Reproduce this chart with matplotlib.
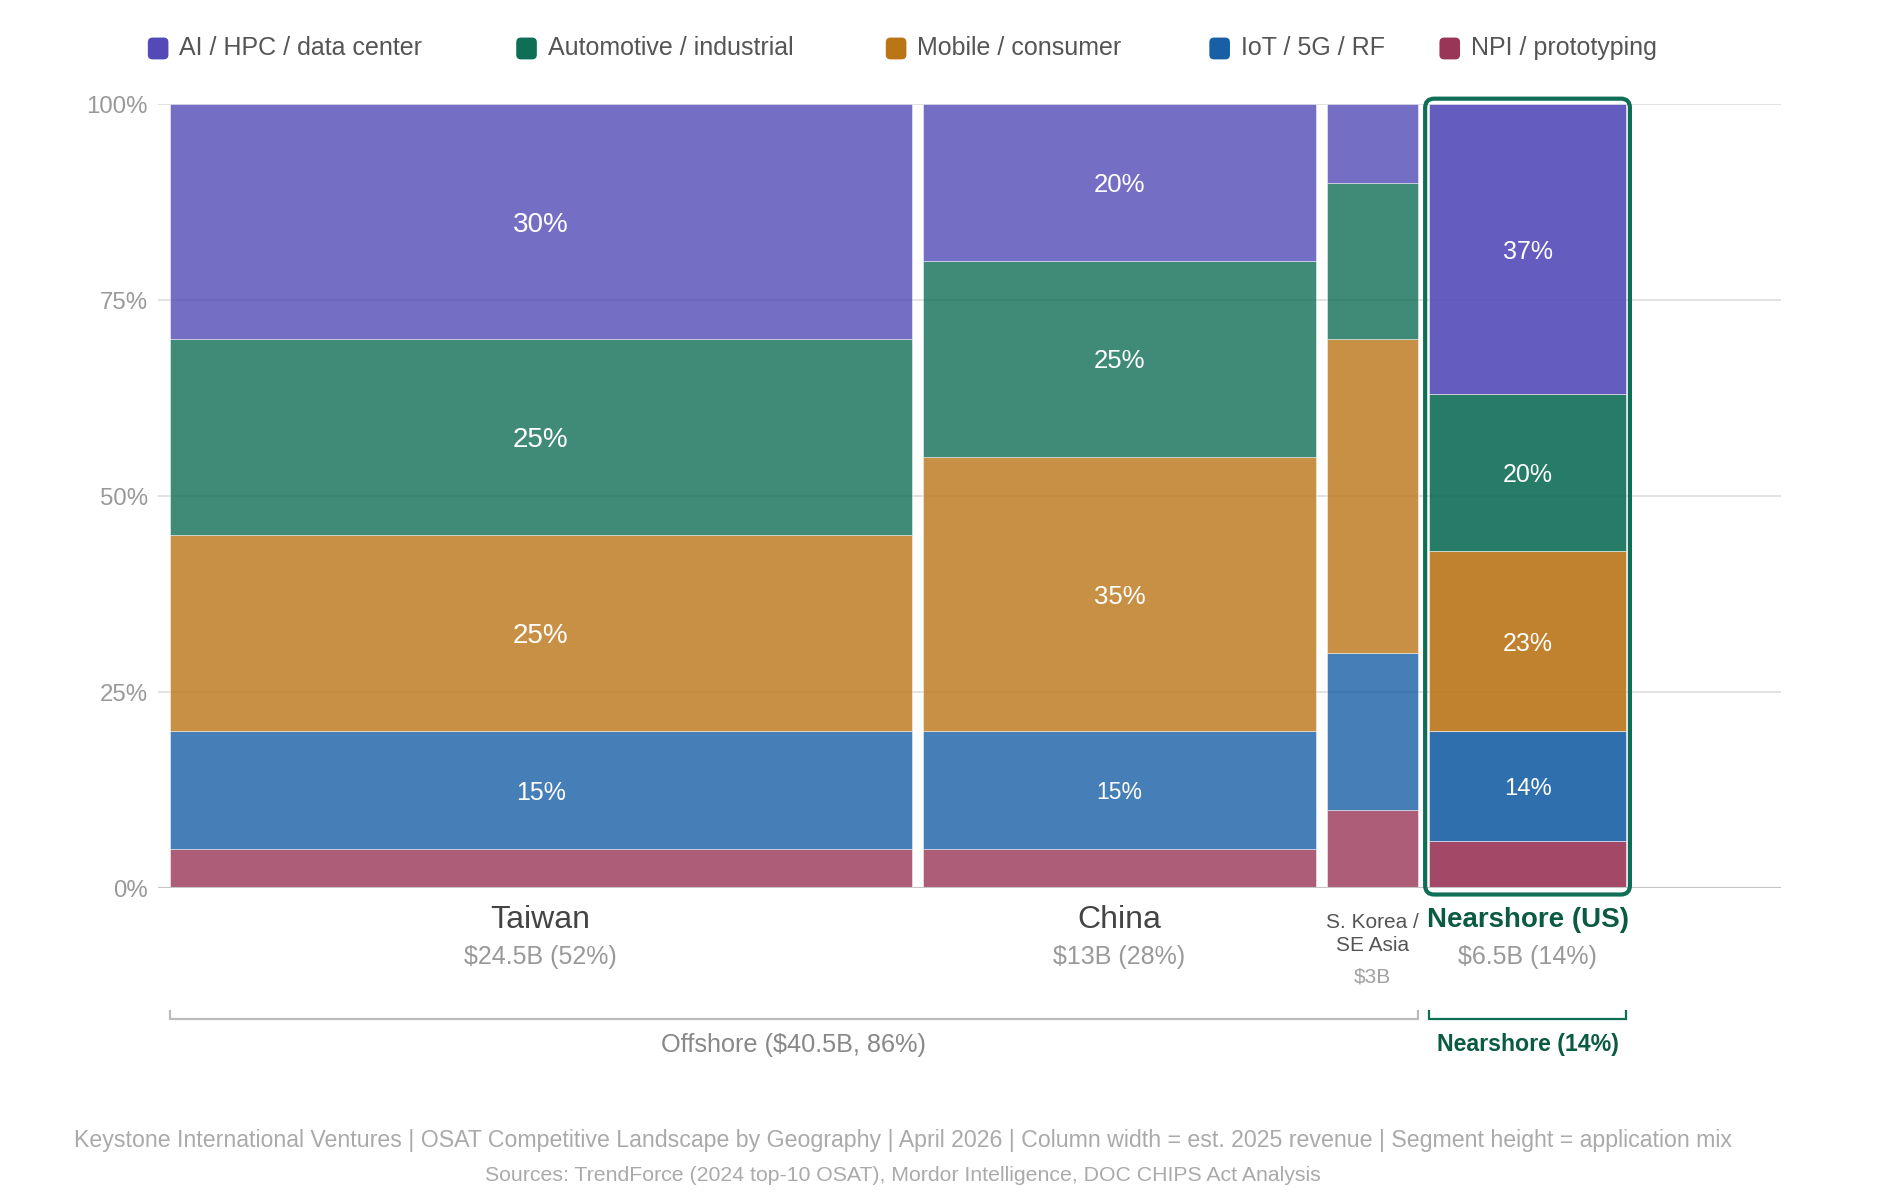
import numpy as np
import matplotlib.pyplot as plt
from matplotlib.patches import FancyBboxPatch

plt.rcParams['font.family'] = ['Liberation Sans', 'DejaVu Sans']

# Datos
regiones = ['Taiwan', 'China', 'S. Korea /\nSE Asia', 'Nearshore (US)']
ingresos = [24.5, 13, 3, 6.5]  # $B, ancho de cada columna
etiquetas_ingreso = ['$24.5B (52%)', '$13B (28%)', '$3B', '$6.5B (14%)']

segmentos = ['AI / HPC / data center', 'Automotive / industrial', 'Mobile / consumer',
             'IoT / 5G / RF', 'NPI / prototyping']
ai = [30, 20, 10, 37]
auto = [25, 25, 20, 20]
mobile = [25, 35, 40, 23]
iot = [15, 15, 20, 14]
npi = [5, 5, 10, 6]

colores = ['#534AB7', '#0F6E56', '#BA7517', '#185FA5', '#993556']

offshore_txt = 'Offshore ($40.5B, 86%)'
nearshore_txt = 'Nearshore (14%)'
pie1 = ('Keystone International Ventures | OSAT Competitive Landscape by Geography | April 2026 | '
        'Column width = est. 2025 revenue | Segment height = application mix')
pie2 = 'Sources: TrendForce (2024 top-10 OSAT), Mordor Intelligence, DOC CHIPS Act Analysis'

verde = '#0F6E56'
verde_osc = '#0B5A44'

fig = plt.figure(figsize=(19, 12), dpi=100)
ax = fig.add_axes([0.0829, 0.2598, 0.8545, 0.6534])
ax.set_xlim(-0.4, 53.2)
ax.set_ylim(0, 100)

# Grilla horizontal
for y in [25, 50, 75, 100]:
    ax.axhline(y, color='#dddddd', lw=1.2, zorder=0)
ax.axhline(0, color='#c4c4c4', lw=1.5, zorder=4)

# Posiciones de las columnas (ancho = ingreso, separación fija)
hueco = 0.36
izq = np.concatenate([[0], np.cumsum(np.array(ingresos) + hueco)[:-1]])
centros = izq + np.array(ingresos) / 2

# Apilamos de abajo hacia arriba: NPI, IoT, Mobile, Auto, AI
pila = [npi, iot, mobile, auto, ai]
colores_pila = colores[::-1]
base = np.zeros(len(regiones))
for valores, color in zip(pila, colores_pila):
    valores = np.array(valores, dtype=float)
    for i in range(len(regiones)):
        alfa = 0.9 if i == 3 else 0.8
        ax.bar(izq[i], valores[i], width=ingresos[i], bottom=base[i], align='edge',
               color=color, alpha=alfa, edgecolor='white', linewidth=0.4, zorder=2)
        if valores[i] >= 10 and ingresos[i] >= 5:
            if ingresos[i] > 20:
                tam = 20 if valores[i] >= 16 else 18
            elif ingresos[i] > 10:
                tam = 18.5 if valores[i] >= 16 else 16.5
            else:
                tam = 18 if valores[i] >= 16 else 17.2
            ax.text(centros[i], base[i] + valores[i] / 2, f'{valores[i]:.0f}%',
                    ha='center', va='center_baseline', color='white', fontsize=tam, zorder=5)
    base += valores

# Marco redondeado de Nearshore
fig.canvas.draw()
bb = ax.get_window_extent()
aspecto = (100 / bb.height) / (53.6 / bb.width)
marco = FancyBboxPatch((izq[3] - 0.13, -0.8), ingresos[3] + 0.26, 101.5,
                       boxstyle='round,pad=0,rounding_size=0.3', mutation_aspect=aspecto,
                       facecolor='none', edgecolor=verde, lw=3, zorder=6, clip_on=False)
ax.add_patch(marco)

# Etiquetas debajo de cada columna
for i in range(len(regiones)):
    if i == 2:
        ax.text(centros[i], -5.85, regiones[i], ha='center', va='center', fontsize=15,
                color='#555555', linespacing=1.3, clip_on=False)
        ax.text(centros[i], -11.3, etiquetas_ingreso[i], ha='center', va='center',
                fontsize=15, color='#a0a0a0', clip_on=False)
    elif i == 3:
        ax.text(centros[i], -4.1, regiones[i], ha='center', va='center', fontsize=20,
                fontweight='bold', color=verde_osc, clip_on=False)
        ax.text(centros[i], -8.8, etiquetas_ingreso[i], ha='center', va='center',
                fontsize=18, color='#999999', clip_on=False)
    else:
        ax.text(centros[i], -4.0, regiones[i], ha='center', va='center', fontsize=23,
                color='#444444', clip_on=False)
        ax.text(centros[i], -8.8, etiquetas_ingreso[i], ha='center', va='center',
                fontsize=18, color='#999999', clip_on=False)

# Llaves inferiores
def llave(x0, x1, color, lw):
    ax.plot([x0, x0, x1, x1], [-15.6, -16.7, -16.7, -15.6], color=color, lw=lw,
            clip_on=False, solid_joinstyle='miter')

llave(0, izq[2] + ingresos[2], '#bbbbbb', 1.6)
llave(izq[3], izq[3] + ingresos[3], verde, 1.6)
ax.text((0 + izq[2] + ingresos[2]) / 2, -19.95, offshore_txt, ha='center', va='center',
        fontsize=18.2, color='#888888', clip_on=False)
ax.text(centros[3], -19.95, nearshore_txt, ha='center', va='center', fontsize=16.7,
        fontweight='bold', color=verde_osc, clip_on=False)

# Ejes
ax.set_xticks([])
ax.set_yticks([0, 25, 50, 75, 100])
ax.set_yticklabels(['0%', '25%', '50%', '75%', '100%'])
ax.tick_params(axis='y', length=0, pad=7, labelsize=17.3, labelcolor='#999999')
for s in ax.spines.values():
    s.set_visible(False)

# Leyenda manual
pos_ley = [0.0778, 0.2717, 0.4662, 0.6365, 0.7576]
for x, nombre, color in zip(pos_ley, segmentos, colores):
    fig.patches.append(FancyBboxPatch((x, 0.9505), 0.01085, 0.0182,
                                      boxstyle='round,pad=0,rounding_size=0.0025',
                                      transform=fig.transFigure, facecolor=color,
                                      edgecolor='none', mutation_aspect=1.58))
    fig.text(x + 0.0166, 0.9596, nombre, ha='left', va='center', fontsize=18, color='#555555')

# Pie de página
fig.text(0.4754, 0.0492, pie1, ha='center', va='center', fontsize=16.7, color='#aaaaaa')
fig.text(0.4754, 0.0207, pie2, ha='center', va='center', fontsize=15.3, color='#aaaaaa')

fig.savefig('out.png', dpi=100, facecolor='white')
